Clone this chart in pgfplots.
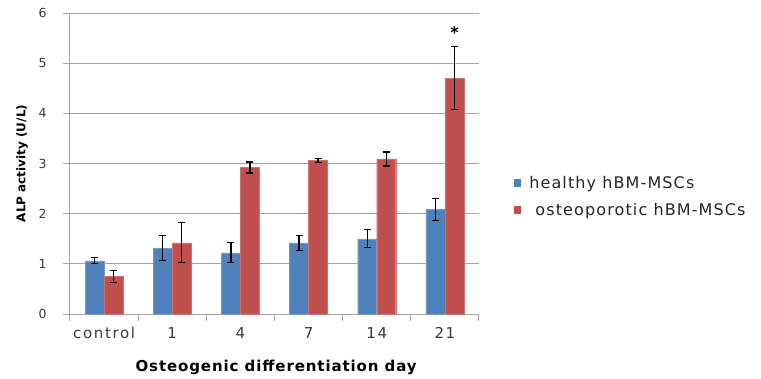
\documentclass[border=0pt]{standalone}
\usepackage{fontspec}
\setmainfont{DejaVu Sans}
\usepackage{pgfplots}
\pgfplotsset{compat=1.18}
\definecolor{xblue}{HTML}{4F81BD}
\definecolor{xred}{HTML}{C0504D}
\definecolor{gridc}{HTML}{A6A6A6}
\definecolor{txt}{HTML}{3A3A3A}
\begin{document}
\begin{tikzpicture}[x=1pt,y=1pt]
\path[use as bounding box] (-70,-64) rectangle (691,314);
\begin{axis}[
  at={(0,0)}, anchor=south west,
  scale only axis, width=409pt, height=301pt,
  xmin=-0.5, xmax=5.5, ymin=0, ymax=6,
  ybar=0pt, bar width=19pt,
  axis x line*=bottom, axis y line*=left,
  axis line style={gridc, line width=1pt},
  ymajorgrids, grid style={gridc, line width=0.9pt},
  ytick={0,...,6},
  tick align=outside, major tick length=7pt,
  tick style={gridc, line width=1pt},
  xtick={-0.5,0.5,...,5.5}, xticklabels={,,,,,,,},
  extra x ticks={0,1,2,3,4,5},
  extra x tick labels={control,1,4,7,14,21},
  extra x tick style={major tick length=0pt},
  /pgf/number format/assume math mode=true,
  every y tick label/.append style={font=\fontsize{12.5}{14}\selectfont, text=txt, anchor=east, xshift=-13pt},
  xticklabel style={font=\fontsize{15}{17}\selectfont\addfontfeature{LetterSpace=11}, text=txt, yshift=-10pt},
  every axis y label/.style={at={(axis description cs:-0.117,0.5)}, rotate=90, anchor=center},
  every axis x label/.style={at={(axis description cs:0.504,-0.179)}, anchor=center},
  ylabel={\fontsize{12}{14}\selectfont\bfseries ALP activity (U/L)},
  xlabel={\fontsize{15}{17}\selectfont\bfseries\addfontfeature{LetterSpace=6} Osteogenic differentiation day},
  legend style={at={(axis description cs:1.076,0.39)}, anchor=west, draw=none,
    font=\fontsize{16}{18}\selectfont\addfontfeature{LetterSpace=7}, row sep=10pt, legend cell align=left, text=black!85},
  legend image code/.code={\fill[#1, draw=none] (1pt,-4pt) rectangle (8pt,4pt); \path[draw=none, fill=none] (0pt,0pt) -- (14pt,0pt);},
  error bars/y dir=both, error bars/y explicit,
  error bars/error bar style={black, line width=1.2pt},
  error bars/error mark options={rotate=90, mark size=3.5pt, black, line width=1.2pt},
]
\addplot[fill=xblue, draw=xblue!80!white] coordinates {
  (0,1.06) +- (0,0.06)
  (1,1.31) +- (0,0.25)
  (2,1.22) +- (0,0.20)
  (3,1.42) +- (0,0.15)
  (4,1.50) +- (0,0.18)
  (5,2.09) +- (0,0.22)
};
\addplot[fill=xred, draw=xred!80!white] coordinates {
  (0,0.75) +- (0,0.12)
  (1,1.42) +- (0,0.40)
  (2,2.92) +- (0,0.11)
  (3,3.06) +- (0,0.04)
  (4,3.09) +- (0,0.14)
  (5,4.70) +- (0,0.63)
};
\legend{healthy hBM-MSCs, \ osteoporotic hBM-MSCs}
\node[font=\fontsize{16}{16}\selectfont\bfseries] at (axis cs:5.14,5.62) {*};
\end{axis}
\end{tikzpicture}
\end{document}
